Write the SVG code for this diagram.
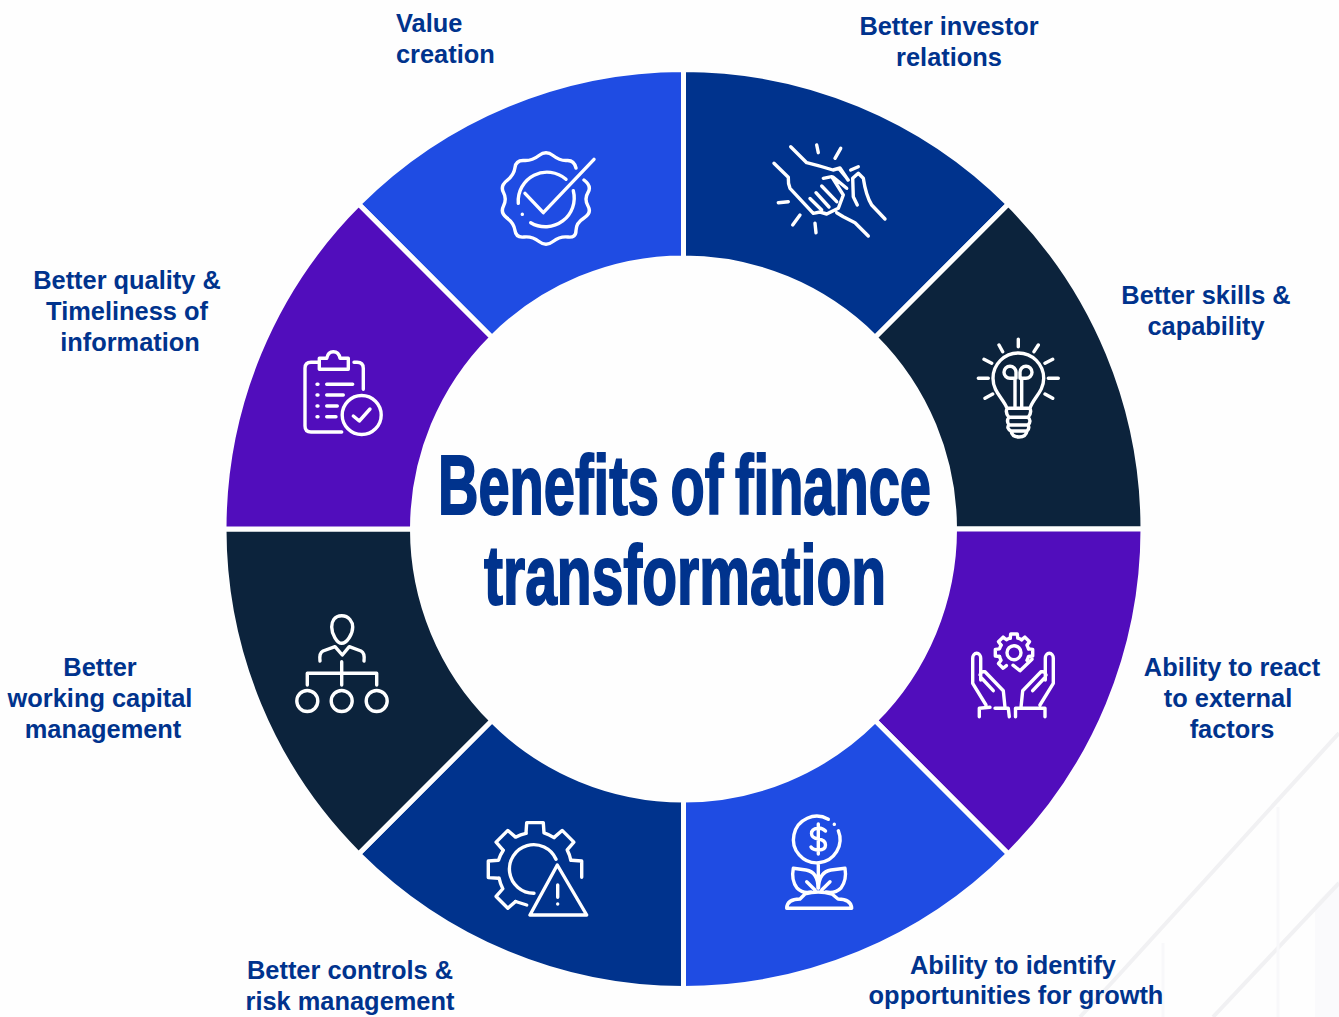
<svg xmlns="http://www.w3.org/2000/svg" xmlns:xlink="http://www.w3.org/1999/xlink" width="1339" height="1017" viewBox="0 0 1339 1017">
<style>
.seg{stroke:#fefefe;stroke-width:5}
.blue{fill:#1f4ce3}.navy{fill:#00338d}.dark{fill:#0c233c}.purple{fill:#510dbc}
.ic{fill:none;stroke:#fff;stroke-width:3.4;stroke-linecap:round;stroke-linejoin:round}
.lb{font-family:"Liberation Sans",Arial,sans-serif;font-weight:700;font-size:25.4px;fill:#00338d;text-anchor:middle}
.tt{font-family:"Liberation Sans",Arial,sans-serif;font-weight:700;font-size:84px;fill:#00338d;stroke:#00338d;stroke-width:2;text-anchor:start;word-spacing:-6px}
.bgl{fill:none;stroke:#f1f1f3;stroke-width:4}
.bgv{fill:none;stroke:#f8f8fa;stroke-width:3}
</style>
<defs>
<path id="tooth" d="M14.5 -3.8L18.7 -3.3V3.3L14.5 3.8A15 15 0 0 1 12.9 7.6"/>
<path id="bigtooth" d="M36.5 -9L46.7 -8.3V8.3L36.5 9A37 37 0 0 1 31.7 19"/>
</defs>
<rect width="1339" height="1017" fill="#fefefe"/>
<g id="background">
<path d="M1339 1017V880L1315 905V1017Z" fill="#fafafc"/>
<path class="bgl" d="M1339 733L1117 977L1080 1017"/>
<path class="bgl" d="M1339 883L1213 1017"/>
<path class="bgv" d="M1278 807V1017M1163 943V1017"/>
</g>
<g id="connectors"></g>
<g id="node-value-creation">
<path class="seg blue" d="M683.5 69.5V258A271 271 0 0 0 491.9 337.4L358.6 204.1A459.5 459.5 0 0 1 683.5 69.5Z"/>
<path class="ic" d="M584 180Q592 186 588 192.5Q584 199 588 206Q592 213 584 218Q576 223 576 230.5Q576 238 568 237Q560 236 553 241.5Q546 247 539 241.5Q532 236 524 237Q516 238 515 230.5Q514 223 507 218Q500 213 503.5 206Q507 199 503.5 192.5Q500 186 507 180.5Q514 175 515 167.5Q516 160 524 160.5Q532 161 539 155.5Q546 150 553 155.5Q560 161 567 160.5Q574 160 576 168"/>
<path class="ic" d="M566 179.3A28.8 28.8 0 0 0 518.3 203.3M522.3 214.3V214.4M530.7 222.7A28.8 28.8 0 0 0 573.3 190.7M525 193.3L543.3 212.7L594 159.3"/>
<text class="lb" x="396" y="32" style="text-anchor:start">Value</text>
<text class="lb" x="396" y="63" style="text-anchor:start">creation</text>
</g>
<g id="node-investor-relations">
<path class="seg navy" d="M683.5 69.5V258A271 271 0 0 1 875.1 337.4L1008.4 204.1A459.5 459.5 0 0 0 683.5 69.5Z"/>
<path class="ic" d="M790.7 146.7L806.7 162.7Q820 166 833 170L840 168L848 180M774 163.3L788.3 177.3Q788 184 790 188.3L813.3 213.3L820 212L826.7 214L838.3 208.3L843.3 195L831.7 176.7L823.3 178.3M810 198.5L821.7 210M816 192.7L829 207M821.7 186L836.7 201.7M833 177L846.7 188.3M840 170L848.3 180M885 219L871.7 205Q866 196 863.3 178.3L858.3 173.3L852.7 178.3L853.3 196.7L857.3 205M868.3 236L855 222.7L843.3 216.7L836.7 212.7M816.7 145L818.3 152.7M840.7 148.3L835 158.3M858.3 166.7L850.7 170M788.3 201.7L778.3 202.7M800 215L792.7 225M815 223.3L816 232.7"/>
<text class="lb" x="949" y="35">Better investor</text>
<text class="lb" x="949" y="66">relations</text>
</g>
<g id="node-skills">
<path class="seg dark" d="M1008.4 204.1A459.5 459.5 0 0 1 1143 529H954.5A271 271 0 0 0 875.1 337.4Z"/>
<path class="ic" d="M1007 408.3C1003 398 993 392 993 378.3A25.3 25.3 0 0 1 1043.7 378.3C1043.7 392 1033 398 1030 408.3ZM1015 408.3V378.3H1010A6 6 0 1 1 1016 372.3V378.3M1021.7 408.3V378.3H1026A6 6 0 1 0 1020 372.3V378.3M1007 408.3Q1005 413 1009 417.3H1028M1030 408.3Q1032 413 1028 417.3Q1032 421 1028 425H1009Q1006 421 1009 417.3M1009 425Q1006 428 1011 431H1027Q1030 428 1028 425M1011 431Q1012 437 1019 437Q1026 437 1027 431M1018.3 339.3V346.7M999 345L1002.7 351.7M1038.3 345L1034 351.7M984 359.3L991.7 363.3M1052.7 359.3L1045 363.3M978.3 378.3H988.3M1048.3 378.3H1058.3M985 398.3L992.7 394M1052.7 398.3L1045 394"/>
<text class="lb" x="1206" y="304">Better skills &amp;</text>
<text class="lb" x="1206" y="335">capability</text>
</g>
<g id="node-react">
<path class="seg purple" d="M1143 529A459.5 459.5 0 0 1 1008.4 853.9L875.1 720.6A271 271 0 0 0 954.5 529Z"/>
<g class="ic" transform="translate(1014 652.7)">
<use xlink:href="#tooth" href="#tooth" transform="rotate(0)"/><use xlink:href="#tooth" href="#tooth" transform="rotate(-45)"/><use xlink:href="#tooth" href="#tooth" transform="rotate(-90)"/><use xlink:href="#tooth" href="#tooth" transform="rotate(-135)"/><use xlink:href="#tooth" href="#tooth" transform="rotate(180)"/><use xlink:href="#tooth" href="#tooth" transform="rotate(135)"/>
<circle r="7"/>
<path d="M-1 12.5L6 18L18 6.5"/>
</g>
<path class="ic" d="M986 705L972.7 683.3V658.3A4 5 0 0 1 980.7 658.3V680M980 675Q981 671 985 671.7L1003.3 690.7L1005 707.3M993.3 690.7L981.5 678M979.3 716.7V708.3L990 707.3M995 708.3H1008.3L1009.3 716.7"/>
<path class="ic" transform="translate(2026 0) scale(-1 1)" d="M986 705L972.7 683.3V658.3A4 5 0 0 1 980.7 658.3V680M980 675Q981 671 985 671.7L1003.3 690.7L1005 707.3M993.3 690.7L981.5 678M981 716.7V708.3H1010.5V716.7"/>
<text class="lb" x="1232" y="676">Ability to react</text>
<text class="lb" x="1228" y="707">to external</text>
<text class="lb" x="1232" y="738">factors</text>
</g>
<g id="node-opportunities">
<path class="seg blue" d="M1008.4 853.9A459.5 459.5 0 0 1 683.5 988.5V800A271 271 0 0 0 875.1 720.6Z"/>
<path class="ic" d="M828.3 819.3A23.3 23.3 0 1 0 838.3 830.7M834.3 824.3V824.4M825.5 831Q822 827.5 818 828Q811.5 829 811.5 833.5Q811.5 838 818.3 839Q825.5 840 825.5 845Q825.5 850 818.5 850Q813 850 811 847M818.3 824V854M818.3 863.3V888.3M818 888Q818 872 806 870Q798 869 793.3 868.3Q791 880 797 888Q803 894 811 892M818.5 888Q819 872 831 870Q839 869 845 868.3Q847 880 841 888Q835 894 826 892M806.7 881.7L815 890M830 881.7L821.7 890M786.7 908.3H851.7Q851 899 838 899L832 894Q818 890 805 894L800 899Q787 899 786.7 908.3Z"/>
<text class="lb" x="1013" y="974">Ability to identify</text>
<text class="lb" x="1016" y="1004">opportunities for growth</text>
</g>
<g id="node-controls">
<path class="seg navy" d="M683.5 988.5A459.5 459.5 0 0 1 358.6 853.9L491.9 720.6A271 271 0 0 0 683.5 800Z"/>
<g class="ic" transform="translate(535 869.3)">
<use xlink:href="#bigtooth" href="#bigtooth" transform="rotate(135)"/><use xlink:href="#bigtooth" href="#bigtooth" transform="rotate(180)"/><use xlink:href="#bigtooth" href="#bigtooth" transform="rotate(-135)"/><use xlink:href="#bigtooth" href="#bigtooth" transform="rotate(-90)"/><use xlink:href="#bigtooth" href="#bigtooth" transform="rotate(-45)"/>
<path d="M36.5 -9L46.7 -8.3V8M-8.3 35.7L-19.4 32.2"/>
</g>
<path class="ic" d="M556 859.3A24.3 24.3 0 1 0 534 893.3M557.3 865L530 915H586.7ZM557.7 885V897.3M557.7 904V904.1"/>
<text class="lb" x="350" y="979">Better controls &amp;</text>
<text class="lb" x="350" y="1010">risk management</text>
</g>
<g id="node-working-capital">
<path class="seg dark" d="M358.6 853.9A459.5 459.5 0 0 1 224 529H412.5A271 271 0 0 0 491.9 720.6Z"/>
<path class="ic" d="M341.7 615.7C334 615.7 331.7 622 331.7 627C331.7 634 337 643.3 341.7 643.3C347 643.3 352.7 634 352.7 627C352.7 622 349 615.7 341.7 615.7ZM320 661Q319 653 323 651L335 646.7L342.3 655L349.3 646.7L361 651Q365 653 364 661M341.7 661.7V685M307.3 685V673.3H376.7V685"/>
<circle class="ic" cx="307.3" cy="701" r="10.5"/><circle class="ic" cx="341.7" cy="701" r="10.5"/><circle class="ic" cx="376.7" cy="701" r="10.5"/>
<text class="lb" x="100" y="676">Better</text>
<text class="lb" x="100" y="707">working capital</text>
<text class="lb" x="103" y="738">management</text>
</g>
<g id="node-quality">
<path class="seg purple" d="M224 529A459.5 459.5 0 0 1 358.6 204.1L491.9 337.4A271 271 0 0 0 412.5 529Z"/>
<path class="ic" d="M363.3 389.3V368.3Q363.3 362.3 357 362.3H354M318.3 362.3H311Q305 362.3 305 368.3V426Q305 432 311 432H341.7M319.3 369.3V358.3H326.7Q328 351.7 333.3 351.7Q339 351.7 340 358.3H348.3V369.3ZM317 384.3H318M317 395H318M317 406H318M317 416.7H318M326.7 384.3H352.7M326.7 395H343.3M326.7 406H337.3M326.7 416.7H336M353.3 416L359.3 421L370 409"/>
<circle class="ic" cx="361.7" cy="415" r="19.5"/>
<text class="lb" x="127" y="289">Better quality &amp;</text>
<text class="lb" x="127" y="320">Timeliness of</text>
<text class="lb" x="130" y="351">information</text>
</g>
<g id="title">
<text class="tt" x="438" y="514" textLength="493" lengthAdjust="spacingAndGlyphs">Benefits of finance</text>
<text class="tt" x="484" y="604" textLength="402" lengthAdjust="spacingAndGlyphs">transformation</text>
</g>
</svg>
